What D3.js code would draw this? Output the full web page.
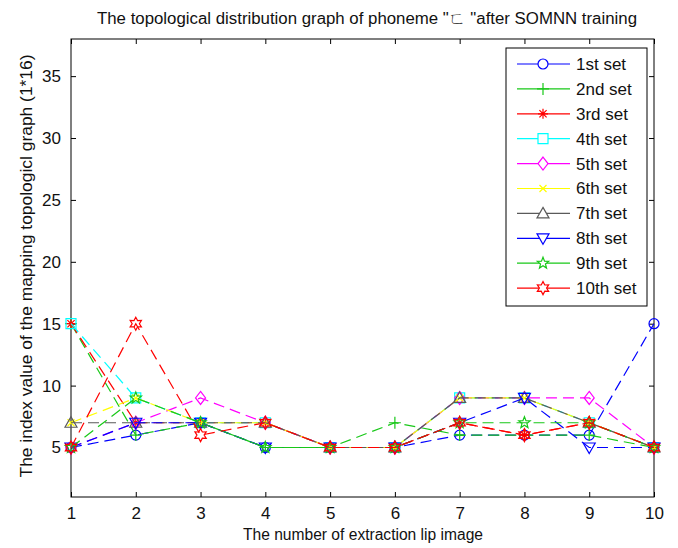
<!DOCTYPE html>
<html>
<head>
<meta charset="utf-8">
<script src="https://cdn.jsdelivr.net/npm/d3@7"></script>
<style>
  body { margin: 0; background: #fff; }
  svg { font-family: "Liberation Sans", Arial, sans-serif; }
</style>
</head>
<body>
<svg id="chart"></svg>
<script>
// values
var xValues = [1, 2, 3, 4, 5, 6, 7, 8, 9, 10];
var seriesNames = ["1st set", "2nd set", "3rd set", "4th set", "5th set",
                   "6th set", "7th set", "8th set", "9th set", "10th set"];
var set1  = [5, 6, 7, 5, 5, 5, 6, 6, 6, 15];
var set2  = [15, 6, 7, 5, 5, 7, 6, 6, 6, 5];
var set3  = [15, 7, 7, 7, 5, 5, 7, 6, 7, 5];
var set4  = [15, 9, 7, 7, 5, 5, 9, 9, 7, 5];
var set5  = [5, 7, 9, 7, 5, 5, 9, 9, 9, 5];
var set6  = [7, 9, 7, 7, 5, 5, 9, 9, 7, 5];
var set7  = [7, 7, 7, 7, 5, 5, 9, 9, 7, 5];
var set8  = [5, 7, 7, 5, 5, 5, 7, 9, 5, 5];
var set9  = [5, 9, 7, 5, 5, 5, 7, 7, 7, 5];
var set10 = [5, 15, 6, 7, 5, 5, 7, 6, 7, 5];
var allSets = [set1, set2, set3, set4, set5, set6, set7, set8, set9, set10];
var yTicks = [5, 10, 15, 20, 25, 30, 35];

// styles
var colors = ["#0000ff", "#18c818", "#ff0000", "#00ffff", "#ff00ff",
              "#ffff00", "#5a5a5a", "#0000ff", "#18c818", "#ff0000"];
var markers = ["o", "+", "*", "s", "d", "x", "^", "v", "p", "h"];

var width = 678;
var height = 548;
var plotLeft = 71, plotRight = 654, plotTop = 39, plotBottom = 497;

var svg = d3.select("#chart")
    .attr("width", width)
    .attr("height", height);

var xScale = d3.scaleLinear().domain([1, 10]).range([plotLeft, plotRight]);
var yScale = d3.scaleLinear().domain([1, 38]).range([plotBottom, plotTop]);

function starPath(n, ro, ri) {
  var pts = d3.range(n * 2).map(function(i) {
    var a = Math.PI * i / n - Math.PI / 2;
    var r = i % 2 ? ri : ro;
    return [r * Math.cos(a), r * Math.sin(a)];
  });
  return "M" + pts.join("L") + "Z";
}

function markerPath(type) {
  var r = 5;
  switch (type) {
    case "o": return "M" + r + ",0A" + r + "," + r + " 0 1,1 " + (-r) + ",0A" + r + "," + r + " 0 1,1 " + r + ",0Z";
    case "+": return "M-6,0H6M0,-6V6";
    case "*": return "M-5,0H5M0,-5V5M-3.6,-3.6L3.6,3.6M-3.6,3.6L3.6,-3.6";
    case "s": return "M-5,-5H5V5H-5Z";
    case "d": return "M0,-6.5L5,0L0,6.5L-5,0Z";
    case "x": return "M-3.5,-3.5L3.5,3.5M-3.5,3.5L3.5,-3.5";
    case "^": return "M0,-6L6,4.5H-6Z";
    case "v": return "M0,6L6,-4.5H-6Z";
    case "p": return starPath(5, 6, 2.6);
    case "h": return starPath(6, 6.5, 3.6);
  }
}

// axes box
svg.append("rect")
    .attr("x", plotLeft).attr("y", plotTop)
    .attr("width", plotRight - plotLeft).attr("height", plotBottom - plotTop)
    .attr("fill", "#fff").attr("stroke", "#000").attr("stroke-width", 1);

var xAxis = d3.axisBottom(xScale).tickValues(xValues).tickFormat(d3.format("d"))
    .tickSizeInner(-5).tickSizeOuter(0).tickPadding(10);
var xAxisTop = d3.axisTop(xScale).tickValues(xValues).tickFormat("")
    .tickSizeInner(-5).tickSizeOuter(0);
var yAxis = d3.axisLeft(yScale).tickValues(yTicks).tickFormat(d3.format("d"))
    .tickSizeInner(-5).tickSizeOuter(0).tickPadding(10);
var yAxisRight = d3.axisRight(yScale).tickValues(yTicks).tickFormat("")
    .tickSizeInner(-5).tickSizeOuter(0);

function styleAxis(g) {
  g.select(".domain").remove();
  g.selectAll("line").attr("stroke", "#000");
  g.selectAll("text")
      .attr("fill", "#111")
      .style("font-size", "17px")
      .style("font-family", "Liberation Sans, Arial, sans-serif");
}

svg.append("g").attr("transform", "translate(0," + plotBottom + ")").call(xAxis).call(styleAxis);
svg.append("g").attr("transform", "translate(0," + plotTop + ")").call(xAxisTop).call(styleAxis);
svg.append("g").attr("transform", "translate(" + plotLeft + ",0)").call(yAxis).call(styleAxis);
svg.append("g").attr("transform", "translate(" + plotRight + ",0)").call(yAxisRight).call(styleAxis);

// series
var line = d3.line()
    .x(function(d, i) { return xScale(xValues[i]); })
    .y(function(d) { return yScale(d); });

var plot = svg.append("g");
allSets.forEach(function(values, k) {
  var g = plot.append("g");
  g.append("path")
      .attr("d", line(values))
      .attr("fill", "none")
      .attr("stroke", colors[k])
      .attr("stroke-width", 1.2)
      .attr("stroke-dasharray", "11,6");
  g.selectAll("path.mk")
    .data(values)
    .join("path")
      .attr("class", "mk")
      .attr("transform", function(d, i) { return "translate(" + xScale(xValues[i]) + "," + yScale(d) + ")"; })
      .attr("d", markerPath(markers[k]))
      .attr("fill", "none")
      .attr("stroke", colors[k])
      .attr("stroke-width", 1.2);
});

// legend
var legend = svg.append("g");
legend.append("rect")
    .attr("x", 506).attr("y", 48)
    .attr("width", 141).attr("height", 258)
    .attr("fill", "#fff").attr("stroke", "#000").attr("stroke-width", 1);

var rows = legend.selectAll("g.row")
  .data(seriesNames)
  .join("g")
    .attr("class", "row")
    .attr("transform", function(d, i) { return "translate(0," + (64 + i * 24.9) + ")"; });

rows.append("line")
    .attr("x1", 517).attr("x2", 570)
    .attr("stroke", function(d, i) { return colors[i]; })
    .attr("stroke-width", 1.2);
rows.append("path")
    .attr("transform", "translate(543,0)")
    .attr("d", function(d, i) { return markerPath(markers[i]); })
    .attr("fill", "#fff")
    .attr("stroke", function(d, i) { return colors[i]; })
    .attr("stroke-width", 1.2);
rows.append("text")
    .attr("x", 576)
    .attr("dy", "0.35em")
    .style("font-size", "17px")
    .attr("fill", "#111")
    .text(function(d) { return d; });

// title and labels
svg.append("text")
    .attr("x", 367).attr("y", 24)
    .attr("text-anchor", "middle")
    .attr("textLength", 540)
    .attr("lengthAdjust", "spacingAndGlyphs")
    .style("font-size", "16px")
    .attr("fill", "#111")
    .text("The topological distribution graph of phoneme \"\u3108 \"after SOMNN training");

svg.append("text")
    .attr("x", 363).attr("y", 540)
    .attr("text-anchor", "middle")
    .attr("textLength", 240)
    .attr("lengthAdjust", "spacingAndGlyphs")
    .style("font-size", "16px")
    .attr("fill", "#111")
    .text("The number of extraction lip image");

svg.append("text")
    .attr("transform", "translate(32,266) rotate(-90)")
    .attr("text-anchor", "middle")
    .attr("textLength", 423)
    .attr("lengthAdjust", "spacingAndGlyphs")
    .style("font-size", "16px")
    .attr("fill", "#111")
    .text("The index value of the mapping topologicl graph (1*16)");
</script>
</body>
</html>
